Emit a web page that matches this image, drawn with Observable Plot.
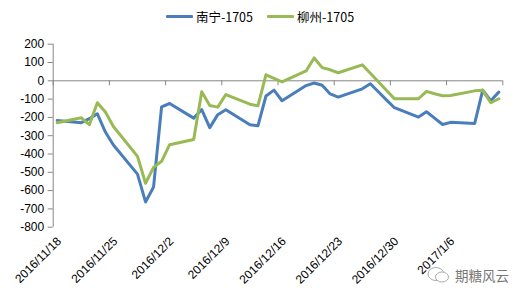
<!DOCTYPE html>
<html><head><meta charset="utf-8">
<script src="https://cdn.jsdelivr.net/npm/d3@7"></script>
<script src="https://cdn.jsdelivr.net/npm/@observablehq/plot@0.6"></script>
<style>
html,body{margin:0;padding:0;background:#fff;}
body{width:520px;height:300px;overflow:hidden;position:relative;font-family:"Liberation Sans",Arial,sans-serif;}
#legend{position:absolute;left:0;top:0;width:520px;height:32px;display:flex;justify-content:center;align-items:center;font-size:12.5px;color:#000;font-family:"Noto Sans CJK SC","Liberation Sans",sans-serif;}
.item{display:flex;align-items:center;margin:0 7px;}
.sw{display:inline-block;width:27px;height:3px;margin-right:3px;border-radius:1px;}
#chart{position:absolute;left:0;top:30px;}
#wm{position:absolute;left:426px;top:265px;display:flex;align-items:center;color:#777;font-size:13.5px;font-family:"Noto Sans CJK SC",sans-serif;}
</style></head><body>
<div id="legend"></div>
<div id="chart"></div>
<div id="wm"><svg width="26" height="20" viewBox="0 0 26 20"><ellipse cx="10" cy="9" rx="8" ry="6.5" fill="none" stroke="#aaa" stroke-width="1"/><ellipse cx="16" cy="12" rx="6.5" ry="5" fill="#fff" stroke="#aaa" stroke-width="1"/></svg><span style="margin-left:3px">期糖风云</span></div>
<script>
const dates = ["2016/11/18","2016/11/21","2016/11/22","2016/11/23","2016/11/24","2016/11/25",
 "2016/11/28","2016/11/29","2016/11/30","2016/12/1","2016/12/2",
 "2016/12/5","2016/12/6","2016/12/7","2016/12/8","2016/12/9",
 "2016/12/12","2016/12/13","2016/12/14","2016/12/15","2016/12/16",
 "2016/12/19","2016/12/20","2016/12/21","2016/12/22","2016/12/23",
 "2016/12/26","2016/12/27","2016/12/28","2016/12/29","2016/12/30",
 "2017/1/2","2017/1/3","2017/1/4","2017/1/5","2017/1/6",
 "2017/1/9","2017/1/10","2017/1/11","2017/1/12"];
const nanning = [-217,-229,-207,-180,-280,-351,
 -510,-662,-580,-142,-124,
 -204,-157,-256,-185,-158,
 -240,-246,-83,-51,-109,
 -26,-12,-24,-72,-89,
 -44,-16,-60,-104,-147,
 -198,-169,-204,-239,-227,
 -233,-51,-109,-62];
const liuzhou = [-229,-202,-240,-120,-171,-250,
 -413,-560,-473,-440,-349,
 -321,-60,-135,-144,-75,
 -128,-137,33,13,-6,
 54,125,72,60,44,
 87,41,-5,-52,-98,
 -98,-58,-71,-82,-80,
 -55,-52,-120,-98];
const seriesNames = ["南宁-1705","柳州-1705"];
const seriesColors = ["#4a7ebb","#98b954"];
const yTicks = [-800,-700,-600,-500,-400,-300,-200,-100,0,100,200];
const xTickLabels = ["2016/11/18","2016/11/25","2016/12/2","2016/12/9","2016/12/16","2016/12/23","2016/12/30","2017/1/6"];
const xTickMarks = [...xTickLabels, "2017/1/13"];
const xDomain = ["2016/11/18","2017/1/13"];

const parse = s => { const [y,m,d] = s.split("/").map(Number); return new Date(Date.UTC(y, m-1, d)); };
const noon = s => new Date(+parse(s) + 12*3600e3);

const rows = [];
seriesNames.forEach((name, k) => {
  const vals = k === 0 ? nanning : liuzhou;
  dates.forEach((s, i) => rows.push({date: noon(s), value: vals[i], series: name}));
});

// legend
const lg = document.getElementById("legend");
seriesNames.forEach((n, i) => {
  const it = document.createElement("div"); it.className = "item";
  it.innerHTML = `<span class="sw" style="background:${seriesColors[i]}"></span><span>${n}</span>`;
  lg.appendChild(it);
});

const axisGray = "#868686";
const chart = Plot.plot({
  width: 520, height: 270,
  marginTop: 13.7, marginBottom: 73.3, marginLeft: 52.7, marginRight: 17.7,
  style: {fontFamily: '"Liberation Sans", Arial, sans-serif', fontSize: "12px", color: "#000", background: "transparent"},
  x: {type: "utc", domain: xDomain.map(parse)},
  y: {domain: [-800, 200]},
  color: {domain: seriesNames, range: seriesColors},
  marks: [
    Plot.ruleX([parse(xDomain[0])], {stroke: axisGray}),
    Plot.ruleY([0], {stroke: axisGray}),
    Plot.ruleX(xTickMarks.map(parse), {y1: 0, y2: 0, insetBottom: -5, stroke: axisGray}),
    Plot.axisY({ticks: yTicks, tickSize: 5, tickPadding: 4, stroke: axisGray, fill: "#000", label: null, tickFormat: d => String(d)}),
    Plot.axisX({anchor: "bottom", ticks: xTickLabels.map(parse), tickFormat: (d, i) => xTickLabels[i], tickRotate: -45, tickSize: 0, tickPadding: 12, dx: 6, fill: "#000", label: null}),
    Plot.line(rows, {x: "date", y: "value", z: "series", stroke: "series", strokeWidth: 3})
  ]
});
document.getElementById("chart").appendChild(chart);
</script>
</body></html>
